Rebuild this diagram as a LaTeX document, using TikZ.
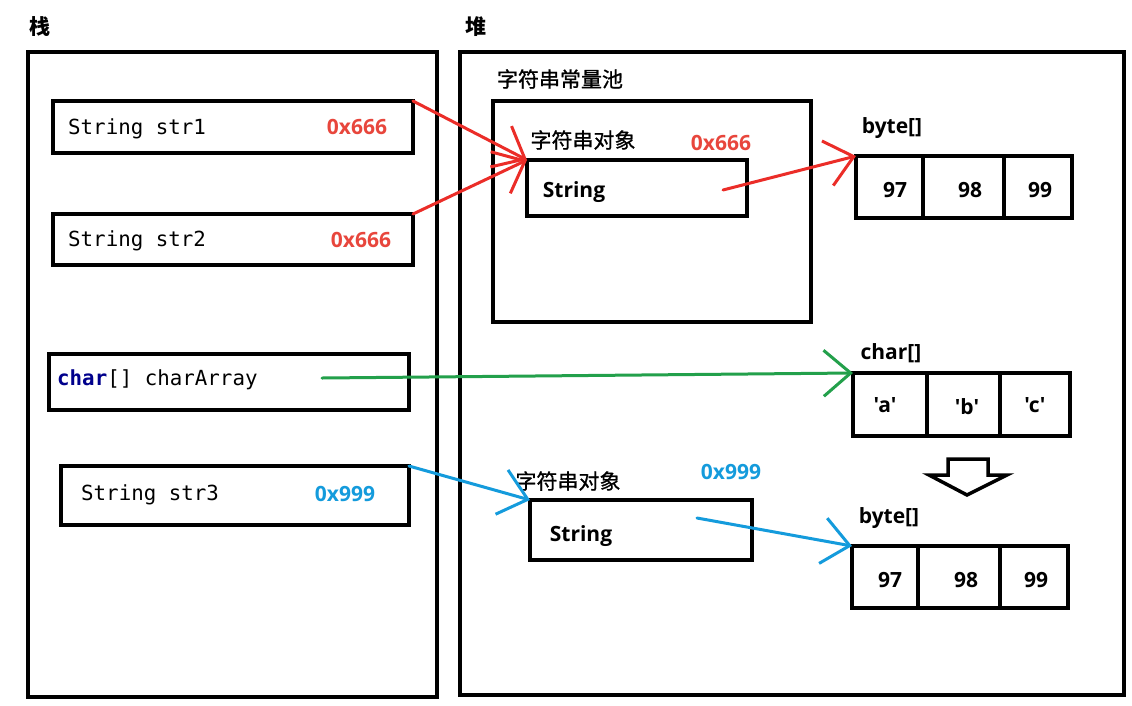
\documentclass[tikz,border=0pt]{standalone}
\usepackage{fontspec}
\setmainfont{Noto Sans CJK SC}
\newfontfamily\cjkmed[FakeBold=0.9]{Noto Sans CJK SC}
\newfontfamily\latinsans{Open Sans}
\setmonofont{DejaVu Sans Mono}
\usetikzlibrary{arrows.meta}
\definecolor{ared}{RGB}{235,45,40}
\definecolor{tred}{RGB}{232,70,60}
\definecolor{ablue}{RGB}{20,155,220}
\definecolor{agreen}{RGB}{35,160,75}
\definecolor{kwblue}{RGB}{0,0,140}
\begin{document}
\begin{tikzpicture}[x=1pt,y=-1pt,
  frame/.style={draw=black,line width=3.5pt,inner sep=0pt,outer sep=0pt,fill=none},
  cell/.style={frame,line width=3.5pt},
  lbl/.style={inner sep=0pt,font=\fontsize{21}{25}\selectfont},
  blbl/.style={lbl,font=\fontsize{21}{25}\selectfont\bfseries},
  clbl/.style={lbl,font=\fontsize{21}{25}\selectfont\cjkmed},
  llbl/.style={lbl,font=\fontsize{21}{25}\selectfont\latinsans\bfseries},
  code/.style={inner sep=0pt,anchor=west,font=\fontsize{20.8}{25}\ttfamily},
  conn/.style={line width=3pt,line cap=round,-{Straight Barb[length=27pt,width=46pt]}}]
\useasboundingbox (0,0) rectangle (1132,705);
\fill[white] (0,0) rectangle (1132,705);
% titles
\node[blbl] (tstack) at (40,27) {栈};
\node[blbl] (theap) at (476,27) {堆};
% main frames
\node[frame,minimum width=409,minimum height=645] (stack) at (232.5,374.5) {};
\node[frame,minimum width=664,minimum height=643] (heap) at (792,373.5) {};
% stack entries
\node[frame,minimum width=360,minimum height=52] (str1) at (233,127) {};
\node[frame,minimum width=360,minimum height=51] (str2) at (233,239.5) {};
\node[frame,minimum width=360,minimum height=56] (chr) at (229,382) {};
\node[frame,minimum width=348,minimum height=59] (str3) at (235,495.5) {};
\node[code] (t1) at (68,129) {String str1};
\node[code] (t2) at (68,241) {String str2};
\node[code] (t3) at (57,380) {\textcolor{kwblue}{\bfseries char}[] charArray};
\node[code] (t4) at (81,495) {String str3};
\node[llbl,text=tred] (a1) at (357,127) {0x666};
\node[llbl,text=tred] (a2) at (361,240) {0x666};
\node[llbl,text=ablue] (a3) at (345,494) {0x999};
% pool
\node[clbl] (tpool) at (560,79) {字符串常量池};
\node[frame,minimum width=318,minimum height=221] (pool) at (652,211.5) {};
\node[clbl] (to1) at (583,140) {字符串对象};
\node[llbl,text=tred] (a4) at (721,143) {0x666};
\node[frame,minimum width=220,minimum height=56] (obj1) at (637,188) {};
\node[llbl] (s1) at (574,192) {String};
% second object
\node[clbl] (to2) at (568,481) {字符串对象};
\node[llbl,text=ablue] (a5) at (731,472) {0x999};
\node[frame,minimum width=222,minimum height=60] (obj2) at (641,530) {};
\node[llbl] (s2) at (581,536) {String};
% byte[] 1
\node[llbl] (tb1) at (892,128) {byte[]};
\node[cell,minimum width=67,minimum height=62] (b1a) at (889.5,187) {};
\node[cell,minimum width=81,minimum height=62] (b1b) at (963.5,187) {};
\node[cell,minimum width=68,minimum height=62] (b1c) at (1038,187) {};
\node[llbl] (v1a) at (895,190) {97};
\node[llbl] (v1b) at (970,190) {98};
\node[llbl] (v1c) at (1040,190) {99};
% char[]
\node[llbl] (tc) at (891,353) {char[]};
\node[cell,minimum width=74,minimum height=63] (c1) at (890,404.5) {};
\node[cell,minimum width=73,minimum height=63] (c2) at (963.5,404.5) {};
\node[cell,minimum width=70,minimum height=63] (c3) at (1035,404.5) {};
\node[llbl] (vc1) at (885,405) {\char"27 a\char"27};
\node[llbl] (vc2) at (967,407) {\char"27 b\char"27};
\node[llbl] (vc3) at (1035,405) {\char"27 c\char"27};
% byte[] 2
\node[llbl] (tb2) at (889,518) {byte[]};
\node[cell,minimum width=66,minimum height=62] (d1) at (885,577) {};
\node[cell,minimum width=82,minimum height=62] (d2) at (959,577) {};
\node[cell,minimum width=68,minimum height=62] (d3) at (1034,577) {};
\node[llbl] (vd1) at (890,580) {97};
\node[llbl] (vd2) at (966,580) {98};
\node[llbl] (vd3) at (1036,580) {99};
% hollow conversion arrow
\draw[line width=3.5pt,line join=miter,fill=white] (948,459) -- (988,459) -- (988,475) -- (1007,475) -- (967,495) -- (929,475) -- (948,475) -- cycle;
% connectors
\coordinate (r2s) at (723,190);
\coordinate (gs) at (322,378);
\coordinate (b2s) at (697,518);
\draw[conn,ared] (str1.north east) -- (obj1.north west);
\draw[conn,ared] (str2.north east) -- (obj1.north west);
\draw[conn,ared] (r2s) -- (b1a.north west);
\draw[conn,agreen] (gs) -- (c1.north west);
\draw[conn,ablue] (str3.north east) -- (obj2.north west);
\draw[conn,ablue] (b2s) -- (d1.north west);
\end{tikzpicture}
\end{document}
